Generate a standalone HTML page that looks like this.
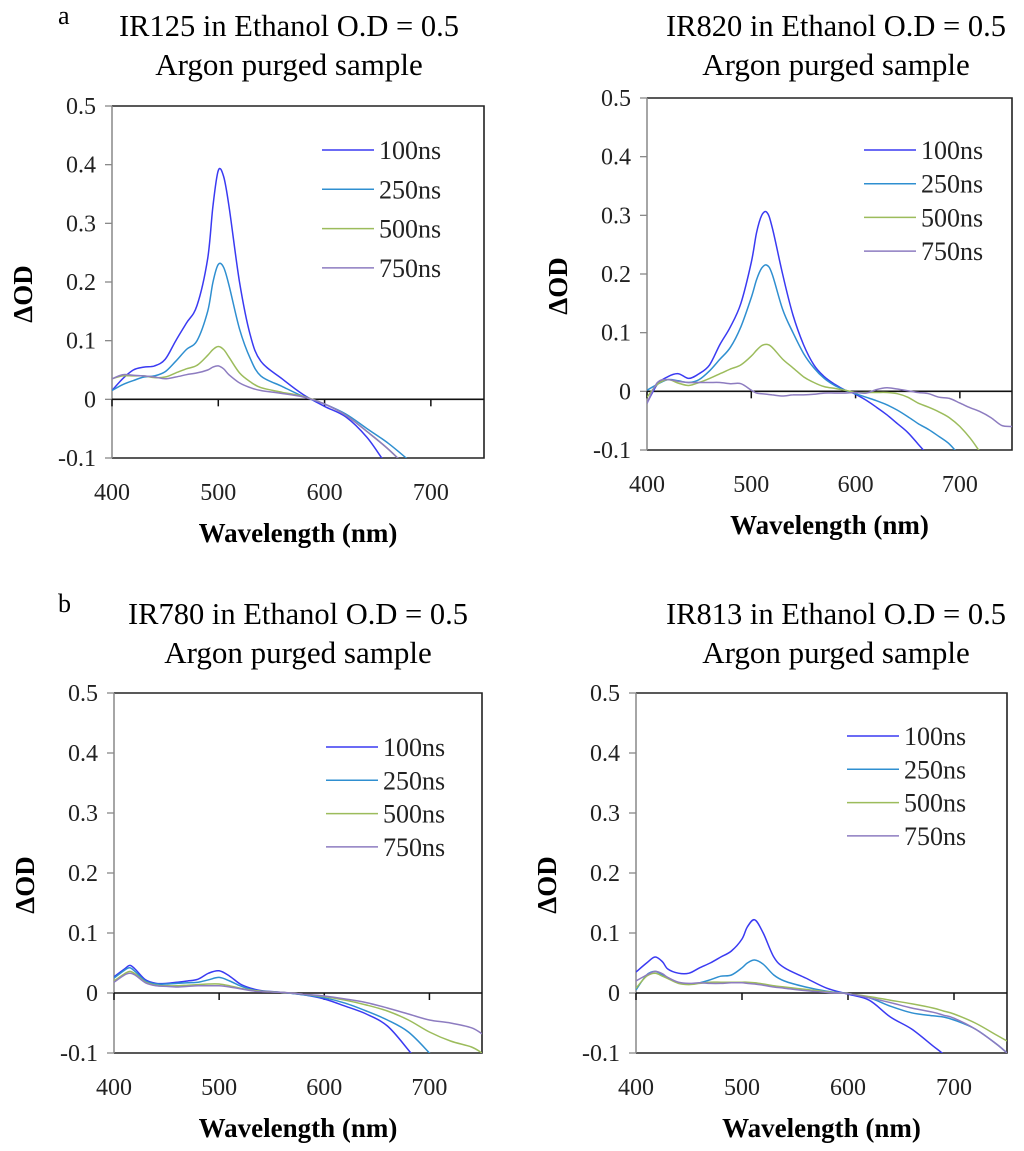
<!DOCTYPE html>
<html><head><meta charset="utf-8"><style>
html,body{margin:0;padding:0;background:#fff;}
svg{display:block;font-family:"Liberation Serif",serif;}
</style></head><body>
<svg id="fig" width="1024" height="1151" viewBox="0 0 1024 1151" xmlns="http://www.w3.org/2000/svg">
<text x="58" y="24" font-size="26">a</text>
<text x="58" y="612" font-size="26">b</text>
</svg>
<script>
// ---- data ----
const seriesNames = ["100ns","250ns","500ns","750ns"];
const colors = ["#3a3af2","#2f8fd0","#9cbc5c","#8d7cc0"];
const yTicks = [-0.1,0,0.1,0.2,0.3,0.4,0.5];
const yTickLabels = ["-0.1","0","0.1","0.2","0.3","0.4","0.5"];
const xTicks = [400,500,600,700];
const xTickLabels = ["400","500","600","700"];

const wlA = [400,410,420,430,440,450,460,470,480,490,495,500,505,510,520,530,540,560,580,600,620,640,660,680];
const a100 = [.015,.035,.05,.055,.057,.068,.1,.13,.16,.24,.33,.39,.38,.33,.2,.11,.065,.035,.008,-.012,-.03,-.065,-.115,-.15];
const a250 = [.015,.025,.032,.038,.04,.047,.065,.085,.1,.15,.2,.23,.225,.195,.12,.07,.04,.022,.005,-.008,-.025,-.05,-.075,-.105];
const a500 = [.035,.04,.04,.04,.037,.038,.045,.052,.058,.075,.085,.09,.085,.072,.045,.03,.02,.012,.005,-.008,-.027,-.055,-.085,-.12];
const a750 = [.035,.042,.041,.04,.038,.035,.038,.042,.045,.05,.055,.057,.052,.042,.028,.02,.015,.01,.004,-.008,-.027,-.055,-.085,-.12];

const wlB = [400,410,420,430,440,450,460,470,480,490,500,505,510,515,520,530,540,550,560,570,580,590,600,610,620,630,640,650,660,670,680,690,700,710,720,730,740,750];
const b100 = [-.02,.012,.025,.03,.022,.03,.045,.08,.11,.15,.22,.27,.3,.305,.28,.2,.13,.08,.045,.025,.012,.002,-.005,-.015,-.027,-.04,-.055,-.07,-.09,-.11,-.13,-.15,-.17,-.19,-.21,-.23,-.25,-.27];
const b250 = [.002,.012,.02,.018,.015,.02,.035,.055,.075,.11,.16,.19,.21,.215,.2,.14,.1,.065,.04,.022,.01,.002,-.004,-.01,-.016,-.023,-.032,-.043,-.055,-.065,-.077,-.09,-.11,-.13,-.15,-.17,-.19,-.21];
const b500 = [-.01,.012,.02,.014,.01,.015,.022,.03,.038,.045,.06,.07,.078,.08,.075,.055,.04,.025,.015,.008,.005,.002,-.002,-.002,-.002,-.002,-.004,-.01,-.02,-.027,-.035,-.045,-.06,-.08,-.105,-.13,-.15,-.17];
const b750 = [-.02,.015,.02,.017,.015,.015,.015,.015,.013,.013,.002,-.003,-.004,-.005,-.006,-.008,-.006,-.006,-.005,-.003,-.003,-.003,-.002,-.003,.003,.006,.004,.001,-.002,-.004,-.01,-.012,-.02,-.028,-.035,-.045,-.058,-.06];

const wlC = [400,410,415,420,430,440,450,460,470,480,490,500,510,520,530,540,560,580,600,620,640,660,680,700,720,740,750];
const c100 = [.027,.04,.046,.04,.022,.016,.016,.018,.02,.023,.033,.037,.028,.015,.008,.004,.001,-.003,-.01,-.022,-.035,-.055,-.095,-.14,-.18,-.22,-.24];
const c250 = [.025,.038,.042,.036,.02,.015,.015,.016,.017,.018,.022,.026,.02,.012,.006,.003,.001,-.003,-.008,-.017,-.03,-.045,-.065,-.1,-.14,-.18,-.2];
const c500 = [.02,.032,.036,.032,.018,.013,.012,.012,.013,.014,.015,.015,.012,.008,.005,.003,.001,-.002,-.006,-.012,-.02,-.03,-.045,-.065,-.08,-.09,-.1];
const c750 = [.018,.03,.033,.03,.017,.012,.011,.01,.011,.012,.012,.012,.01,.007,.004,.002,.001,-.002,-.005,-.01,-.016,-.025,-.035,-.045,-.05,-.058,-.068];

const wlD = [400,410,418,425,430,440,450,460,470,480,490,500,505,512,520,530,540,560,580,600,620,640,660,680,690,700,720,740,750];
const d100 = [.035,.05,.06,.052,.04,.033,.033,.042,.05,.06,.07,.09,.11,.122,.1,.06,.042,.025,.008,-.002,-.012,-.04,-.06,-.088,-.102,-.12,-.16,-.2,-.22];
const d250 = [.005,.03,.036,.03,.025,.017,.015,.017,.022,.028,.03,.042,.05,.055,.048,.03,.02,.01,.003,-.001,-.008,-.022,-.033,-.038,-.04,-.045,-.06,-.085,-.1];
const d500 = [.008,.028,.033,.028,.024,.016,.014,.016,.018,.018,.018,.018,.018,.017,.015,.012,.01,.006,.002,-.001,-.006,-.012,-.018,-.025,-.03,-.035,-.05,-.07,-.08];
const d750 = [.02,.03,.036,.032,.026,.018,.016,.017,.016,.016,.017,.017,.016,.015,.013,.01,.008,.004,.001,-.001,-.008,-.016,-.025,-.032,-.037,-.042,-.06,-.085,-.1];

const titlesL1 = ["IR125 in Ethanol O.D = 0.5","IR820 in Ethanol O.D = 0.5","IR780 in Ethanol O.D = 0.5","IR813 in Ethanol O.D = 0.5"];

// ---- layout (not data) ----
const panels = [
 {id:"ir125", L:112,R:484,T:106,B:458, wl:wlA, s:[a100,a250,a500,a750], tcx:289, ty:36, leg:{x:322,y:150,dy:39.3}},
 {id:"ir820", L:647,R:1012,T:98,B:450, wl:wlB, s:[b100,b250,b500,b750], tcx:836, ty:36, leg:{x:864,y:150,dy:33.7}},
 {id:"ir780", L:114,R:482,T:693,B:1053, wl:wlC, s:[c100,c250,c500,c750], tcx:298, ty:624, leg:{x:326,y:747,dy:33.3}},
 {id:"ir813", L:636,R:1007,T:693,B:1053, wl:wlD, s:[d100,d250,d500,d750], tcx:836, ty:624, leg:{x:847,y:736,dy:33.3}}
];
const NS="http://www.w3.org/2000/svg";
const svg=document.getElementById("fig");
function mk(tag,attrs,parent){const e=document.createElementNS(NS,tag);for(const k in attrs)e.setAttribute(k,attrs[k]);(parent||svg).appendChild(e);return e;}
function smooth(pts){let d="M"+pts[0][0].toFixed(1)+","+pts[0][1].toFixed(1);
 for(let i=0;i<pts.length-1;i++){const p0=pts[Math.max(0,i-1)],p1=pts[i],p2=pts[i+1],p3=pts[Math.min(pts.length-1,i+2)];
 const c1=[p1[0]+(p2[0]-p0[0])/6,p1[1]+(p2[1]-p0[1])/6],c2=[p2[0]-(p3[0]-p1[0])/6,p2[1]-(p3[1]-p1[1])/6];
 d+="C"+c1[0].toFixed(1)+","+c1[1].toFixed(1)+" "+c2[0].toFixed(1)+","+c2[1].toFixed(1)+" "+p2[0].toFixed(1)+","+p2[1].toFixed(1);}
 return d;}
panels.forEach((p,pi)=>{
 const xS=w=>p.L+(w-400)/350*(p.R-p.L);
 const yS=v=>p.B-(v+0.1)/0.6*(p.B-p.T);
 const g=mk("g",{});
 
 
 const t1=mk("text",{x:p.tcx,y:p.ty,"font-size":30.5,"text-anchor":"middle"},g);t1.textContent=titlesL1[pi];
 
 
 const t2=mk("text",{x:p.tcx,y:p.ty+39,"font-size":31,"text-anchor":"middle"},g);t2.textContent="Argon purged sample";
 
 
 const cp=mk("clipPath",{id:"clip"+pi},g);mk("rect",{x:p.L,y:p.T,width:p.R-p.L,height:p.B-p.T},cp);
 const frame=mk("path",{d:`M${p.L},${p.T}H${p.R}V${p.B}H${p.L}`,fill:"none",stroke:"#222","stroke-width":1.6},g);
 
 
 const ya=mk("line",{x1:p.L,y1:p.T,x2:p.L,y2:p.B,stroke:"#888","stroke-width":1.5},g);
 
 
 yTicks.forEach((v,i)=>{const y=yS(v);
  mk("line",{x1:p.L-7,y1:y,x2:p.L,y2:y,stroke:"#888","stroke-width":1.3},g);
  const t=mk("text",{x:p.L-16,y:y+8,"font-size":24,"text-anchor":"end",fill:"#222"},g);t.textContent=yTickLabels[i];
  
  });
 const y0=yS(0);
 const zl=mk("line",{x1:p.L,y1:y0,x2:p.R,y2:y0,stroke:"#111","stroke-width":1.6},g);
 
 
 xTicks.forEach((w,i)=>{const x=xS(w);
  mk("line",{x1:x,y1:y0,x2:x,y2:y0+7,stroke:"#111","stroke-width":1.5},g);
  const t=mk("text",{x:x,y:p.B+42,"font-size":24,"text-anchor":"middle",fill:"#222"},g);t.textContent=xTickLabels[i];
  
  });
 const xt=mk("text",{x:(p.L+p.R)/2,y:p.B+84,"font-size":27,"font-weight":"bold","text-anchor":"middle"},g);xt.textContent="Wavelength (nm)";
 
 
 const cy=(p.T+p.B)/2+12;
 const yt=mk("text",{x:0,y:0,"font-size":27,"font-weight":"bold","text-anchor":"middle",transform:`translate(${p.L-80},${cy}) rotate(-90)`},g);yt.textContent="ΔOD";
 
 
 p.s.forEach((vals,si)=>{
  const pts=p.wl.map((w,i)=>[xS(w),yS(vals[i])]);
  const path=mk("path",{d:smooth(pts),fill:"none",stroke:colors[si],"stroke-width":1.5,"clip-path":`url(#clip${pi})`},g);
  
  
  const ly=p.leg.y+si*p.leg.dy;
  const le=mk("g",{},g);
  
  
  mk("line",{x1:p.leg.x,y1:ly,x2:p.leg.x+52,y2:ly,stroke:colors[si],"stroke-width":1.5},le);
  const lt=mk("text",{x:p.leg.x+57,y:ly+9,"font-size":26,fill:"#222"},le);lt.textContent=seriesNames[si];
 });
});
</script>
</body></html>
